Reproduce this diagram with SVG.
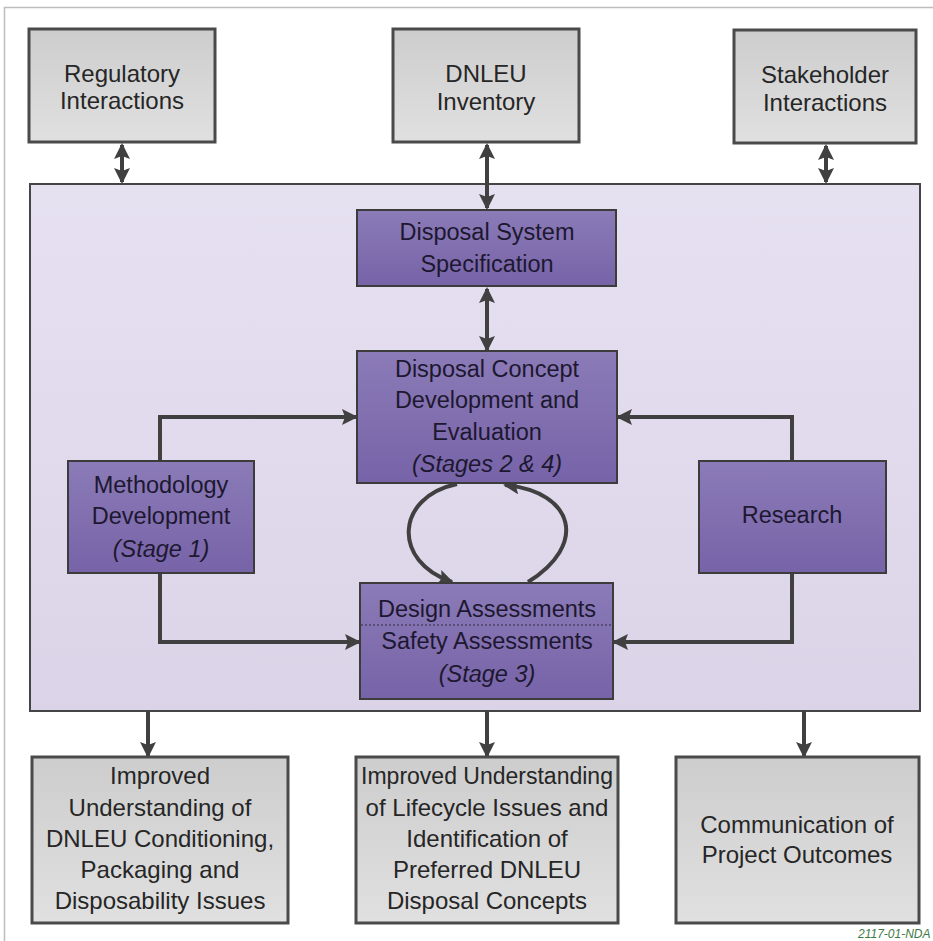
<svg xmlns="http://www.w3.org/2000/svg" width="933" height="941" viewBox="0 0 933 941">
<defs>
<linearGradient id="gGray" x1="0" y1="0" x2="0" y2="1">
<stop offset="0" stop-color="#cdcdcd"/><stop offset="1" stop-color="#e0e0e0"/>
</linearGradient>
<linearGradient id="gPurple" x1="0" y1="0" x2="0" y2="1">
<stop offset="0" stop-color="#8b7bb7"/><stop offset="1" stop-color="#7763a8"/>
</linearGradient>
<linearGradient id="gFrame" x1="0" y1="0" x2="0" y2="1">
<stop offset="0" stop-color="#e6e1f1"/><stop offset="1" stop-color="#dbd4e8"/>
</linearGradient>
<marker id="ah" viewBox="0 0 16 16" refX="14" refY="8" markerWidth="16" markerHeight="16" markerUnits="userSpaceOnUse" orient="auto-start-reverse">
<path d="M0,0 L16,8 L0,16 L3,8 Z" fill="#404040"/>
</marker>
<style>
.gray rect{fill:url(#gGray);stroke:#4a4a4a;stroke-width:3}
.purple rect{fill:url(#gPurple);stroke:#3c3c3c;stroke-width:2}
text{font-family:"Liberation Sans",Arial,sans-serif;text-anchor:middle}
.gray text{font-size:24px;fill:#262626}
.purple text{font-size:23.5px;fill:#1d1830}
.it{font-style:italic}
#connectors path,#connectors line{fill:none;stroke:#404040;stroke-width:4}
</style>
</defs>
<rect width="933" height="941" fill="#ffffff"/>
<path d="M4.5,941 V7.5 H933" fill="none" stroke="#bdbdbd" stroke-width="1.5"/>

<g id="frame">
<rect x="30" y="184" width="890" height="527" fill="url(#gFrame)" stroke="#454545" stroke-width="2"/>
</g>

<g id="connectors">
<line x1="122" y1="145" x2="122" y2="182" marker-start="url(#ah)" marker-end="url(#ah)"/>
<line x1="487" y1="145" x2="487" y2="208" marker-start="url(#ah)" marker-end="url(#ah)"/>
<line x1="826" y1="146" x2="826" y2="182" marker-start="url(#ah)" marker-end="url(#ah)"/>
<line x1="487" y1="289" x2="487" y2="350" marker-start="url(#ah)" marker-end="url(#ah)"/>
<path d="M160,461 V417 H356" marker-end="url(#ah)"/>
<path d="M160,573 V642 H359" marker-end="url(#ah)"/>
<path d="M792,461 V417 H618" marker-end="url(#ah)"/>
<path d="M792,573 V642 H614" marker-end="url(#ah)"/>
<path d="M457,484 C395,497 392,562 452,582" marker-end="url(#ah)"/>
<path d="M528,582 C588,545 575,492 505,485" marker-end="url(#ah)"/>
<line x1="148" y1="711" x2="148" y2="756" marker-end="url(#ah)"/>
<line x1="487" y1="711" x2="487" y2="756" marker-end="url(#ah)"/>
<line x1="804" y1="711" x2="804" y2="756" marker-end="url(#ah)"/>
</g>

<g id="regulatory" class="gray">
<rect x="29" y="29" width="186" height="113"/>
<text x="122" y="82">Regulatory</text>
<text x="122" y="109">Interactions</text>
</g>
<g id="dnleu" class="gray">
<rect x="393" y="29" width="186" height="113"/>
<text x="486" y="82">DNLEU</text>
<text x="486" y="110">Inventory</text>
</g>
<g id="stakeholder" class="gray">
<rect x="734" y="30" width="182" height="113"/>
<text x="825" y="83">Stakeholder</text>
<text x="825" y="111">Interactions</text>
</g>

<g id="spec" class="purple">
<rect x="357" y="210" width="259" height="76"/>
<text x="487" y="240">Disposal System</text>
<text x="487" y="272">Specification</text>
</g>
<g id="concept" class="purple">
<rect x="357" y="351" width="260" height="132"/>
<text x="487" y="377">Disposal Concept</text>
<text x="487" y="408">Development and</text>
<text x="487" y="440">Evaluation</text>
<text x="487" y="472" class="it">(Stages 2 &amp; 4)</text>
</g>
<g id="methodology" class="purple">
<rect x="68" y="461" width="186" height="112"/>
<text x="161" y="493">Methodology</text>
<text x="161" y="524">Development</text>
<text x="161" y="557" class="it">(Stage 1)</text>
</g>
<g id="research" class="purple">
<rect x="699" y="461" width="187" height="112"/>
<text x="792" y="523">Research</text>
</g>
<g id="assessments" class="purple">
<rect x="360" y="583" width="253" height="116"/>
<text x="487" y="617">Design Assessments</text>
<line x1="361" y1="625" x2="612" y2="625" stroke="#2e2a3e" stroke-width="1.2" stroke-dasharray="2,2"/>
<text x="487" y="649">Safety Assessments</text>
<text x="487" y="682" class="it">(Stage 3)</text>
</g>

<g id="outcome1" class="gray">
<rect x="32" y="757" width="256" height="166"/>
<text x="160" y="784">Improved</text>
<text x="160" y="816">Understanding of</text>
<text x="160" y="847">DNLEU Conditioning,</text>
<text x="160" y="878">Packaging and</text>
<text x="160" y="909">Disposability Issues</text>
</g>
<g id="outcome2" class="gray">
<rect x="356" y="757" width="262" height="166"/>
<text x="487" y="784" style="font-size:23px">Improved Understanding</text>
<text x="487" y="816">of Lifecycle Issues and</text>
<text x="487" y="847">Identification of</text>
<text x="487" y="878">Preferred DNLEU</text>
<text x="487" y="909">Disposal Concepts</text>
</g>
<g id="outcome3" class="gray">
<rect x="676" y="757" width="243" height="166"/>
<text x="797" y="833">Communication of</text>
<text x="797" y="863">Project Outcomes</text>
</g>

<text x="858" y="938" style="font-size:12px;font-style:italic;text-anchor:start;fill:#3f7a45">2117-01-NDA</text>
</svg>
